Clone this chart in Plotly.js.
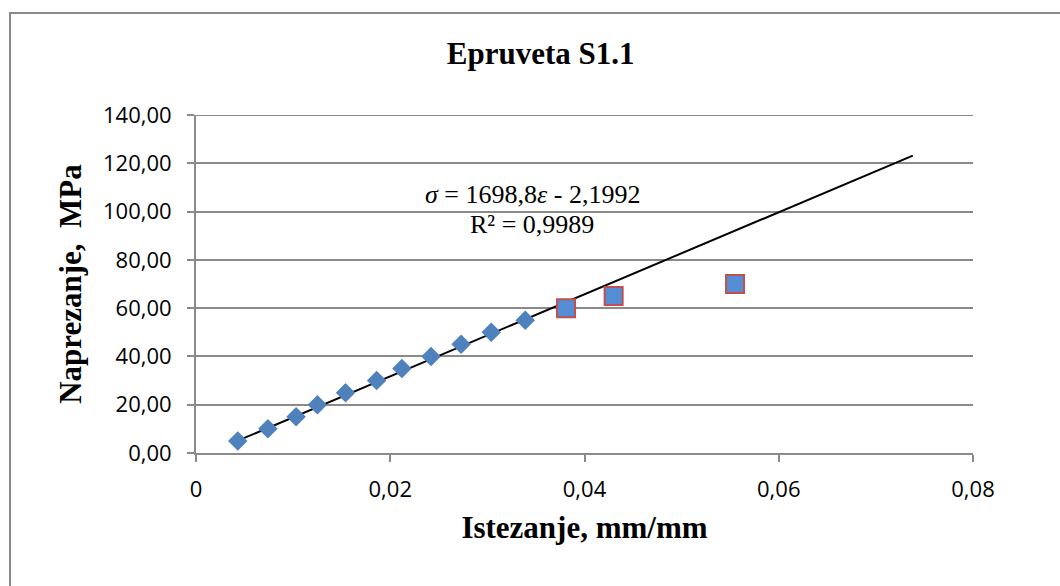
<!DOCTYPE html>
<html>
<head>
<meta charset="utf-8">
<script src="https://cdn.plot.ly/plotly-3.0.1.min.js"></script>
<style>
html,body{margin:0;padding:0;background:#fff;overflow:hidden;}
#frame{position:absolute;left:9px;top:12px;width:1100px;height:700px;border:2px solid #8a8a8a;box-sizing:border-box;}
#chart{position:absolute;left:0;top:0;width:1060px;height:586px;}
</style>
</head>
<body>
<div id="frame"></div>
<div id="chart"></div>
<script>
// Elastic points (diamonds)
const strainLinear = [0.0043, 0.0074, 0.0103, 0.0125, 0.0154, 0.0186, 0.0212, 0.0242, 0.0273, 0.0304, 0.0339];
const stressLinear = [5, 10, 15, 20, 25, 30, 35, 40, 45, 50, 55];
// Points beyond linear range (squares)
const strainPlastic = [0.0381, 0.0430, 0.0555];
const stressPlastic = [60, 65, 70];
// Trendline from the chart's equation
const slope = 1698.8;
const intercept = -2.1992;
const trendX = [0.0043, 0.0738];
const trendY = trendX.map(x => slope * x + intercept);
const yTicks = [0, 20, 40, 60, 80, 100, 120, 140];
const xTicks = [0, 0.02, 0.04, 0.06, 0.08];
const xTickText = ['0', '0,02', '0,04', '0,06', '0,08'];

const traces = [
  {x: trendX, y: trendY, mode: 'lines', line: {color: '#000', width: 2}, hoverinfo: 'skip', showlegend: false},
  {x: strainLinear, y: stressLinear, mode: 'markers', showlegend: false,
   marker: {symbol: 'diamond', size: 15, color: '#4F81BD', line: {width: 0}}},
  {x: strainPlastic, y: stressPlastic, mode: 'markers', showlegend: false,
   marker: {symbol: 'square', size: 18, color: '#558ED5', line: {width: 2, color: '#C0504D'}}}
];

const gridC = '#8a8a8a';
const serif = 'Liberation Serif, Times New Roman, serif';
const sans = 'Open Sans, Liberation Sans, sans-serif';
const layout = {
  width: 1060, height: 586,
  paper_bgcolor: 'rgba(0,0,0,0)', plot_bgcolor: 'rgba(0,0,0,0)',
  separators: ', ',
  margin: {l: 196, r: 87, t: 115, b: 133, pad: 0},
  title: {text: '<b>Epruveta S1.1</b>', x: 0.51, xanchor: 'center', y: 0.91, yanchor: 'middle',
          font: {family: serif, size: 31, color: '#000'}},
  xaxis: {
    range: [0, 0.08], tickvals: xTicks, ticktext: xTickText,
    showgrid: false, zeroline: false, showline: true, linecolor: gridC, linewidth: 2,
    ticks: 'outside', ticklen: 7, tickcolor: gridC, tickwidth: 2, ticklabelstandoff: 9,
    tickfont: {family: sans, size: 22, color: '#000'},
    title: {text: '<b>Istezanje, mm/mm</b>', standoff: 14,
            font: {family: serif, size: 31, color: '#000'}}
  },
  yaxis: {
    range: [0, 140], tickvals: yTicks, tickformat: '.2f',
    showgrid: true, gridcolor: gridC, gridwidth: 2, zeroline: false,
    showline: true, linecolor: gridC, linewidth: 2,
    ticks: 'outside', ticklen: 7, tickcolor: gridC, tickwidth: 2, ticklabelstandoff: 11,
    tickfont: {family: sans, size: 22, color: '#000'},
    title: {text: '<b>Naprezanje,  MPa</b>', standoff: 12,
            font: {family: serif, size: 31, color: '#000'}}
  },
  shapes: [
    {type: 'line', xref: 'paper', yref: 'y', x0: 0, x1: 1, y0: 140, y1: 140, line: {color: gridC, width: 2}}
  ],
  annotations: [
    {xref: 'paper', yref: 'paper', x: 0.433, y: 0.764, xanchor: 'center', yanchor: 'middle', showarrow: false,
     text: '<i>σ</i> = 1698,8<i>ε</i> - 2,1992',
     font: {family: serif, size: 26, color: '#000'}},
    {xref: 'paper', yref: 'paper', x: 0.433, y: 0.675, xanchor: 'center', yanchor: 'middle', showarrow: false,
     text: 'R² = 0,9989',
     font: {family: serif, size: 26, color: '#000'}}
  ]
};

Plotly.newPlot('chart', traces, layout, {displayModeBar: false, staticPlot: true});
</script>
</body>
</html>
